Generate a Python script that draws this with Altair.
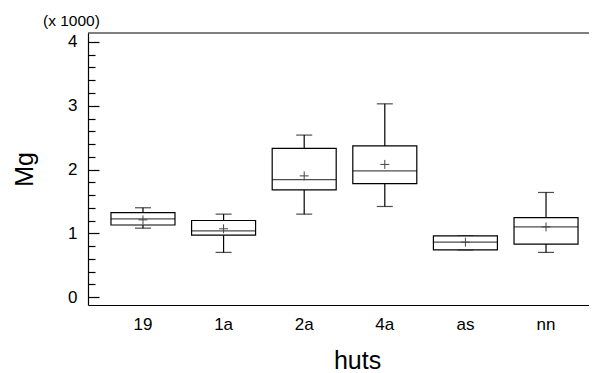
import altair as alt
import pandas as pd

huts = ["19", "1a", "2a", "4a", "as", "nn"]
w_low = [1.08, 0.70, 1.30, 1.42, 0.74, 0.70]
q1 = [1.13, 0.97, 1.68, 1.78, 0.74, 0.83]
median = [1.225, 1.036, 1.84, 1.98, 0.86, 1.10]
q3 = [1.325, 1.20, 2.33, 2.37, 0.96, 1.245]
w_high = [1.40, 1.30, 2.54, 3.03, 0.96, 1.64]
means = [1.21, 1.07, 1.90, 2.08, 0.86, 1.10]
major_ticks = [0, 1, 2, 3, 4]
all_ticks = [0, 0.2, 0.4, 0.6, 0.8, 1, 1.2, 1.4, 1.6, 1.8, 2, 2.2, 2.4, 2.6, 2.8,
             3, 3.2, 3.4, 3.6, 3.8, 4]

df = pd.DataFrame({"hut": huts, "lo": w_low, "q1": q1, "med": median,
                   "q3": q3, "hi": w_high, "mean": means})

FONT = "Liberation Sans"
W, H = 501, 272
XR = 513
ydom = [-0.125, 4.141]
yscale = alt.Scale(domain=ydom, nice=False, zero=False)
xscale = alt.Scale(paddingInner=0, paddingOuter=0.182, align=0.5, range=[0, XR])

xenc = alt.X("hut:N", sort=huts, scale=xscale,
             axis=alt.Axis(title="huts", ticks=False, domain=True, domainColor="black",
                           domainWidth=1.2, labelAngle=0,
                           labelFontSize=17, labelPadding=11, titleFontSize=25,
                           titleFontWeight="normal", titlePadding=16, titleX=269,
                           labelFont=FONT, titleFont=FONT, labelColor="black",
                           titleColor="black"))

base = alt.Chart(df).encode(x=xenc)
tick_size = {"condition": {"test": "abs(datum.value - round(datum.value)) < 0.001", "value": 11}, "value": 7}

whisk = base.mark_rule(color="black", strokeWidth=1.2).encode(
    y=alt.Y("lo:Q", scale=yscale,
            axis=alt.Axis(title="Mg", values=major_ticks, ticks=False, tickSize=0,
                          domain=True, domainColor="black", domainWidth=1.2,
                          grid=False, labelPadding=11, labelFontSize=17,
                          labelFont=FONT, labelColor="black", titleFont=FONT,
                          titleFontSize=25, titleFontWeight="normal", titleColor="black",
                          titlePadding=30, format="d")),
    y2="hi:Q")
cap_lo = base.mark_tick(size=16, thickness=1.2, color="black").encode(
    y=alt.Y("lo:Q", scale=yscale,
            axis=alt.Axis(orient="right", offset=-W, values=all_ticks, labels=False,
                          domain=False, grid=False, title=None, tickSize=tick_size,
                          tickColor="black", tickWidth=1.2)))
cap_hi = base.mark_tick(size=16, thickness=1.2, color="black").encode(
    y=alt.Y("hi:Q", scale=yscale,
            axis=alt.Axis(orient="left", offset=-XR, values=all_ticks, labels=False,
                          domain=False, grid=False, title=None, tickSize=tick_size,
                          tickColor="black", tickWidth=1.2)))
box = base.mark_bar(size=64, fill="white", stroke="black", strokeWidth=1.2).encode(
    y=alt.Y("q1:Q", scale=yscale, axis=None), y2="q3:Q")
med = base.mark_tick(size=64, thickness=1.2, color="black").encode(
    y=alt.Y("med:Q", scale=yscale, axis=None))
mean_pt = base.mark_point(shape="M-1,0L1,0M0,-1L0,1", size=81, filled=False,
                          color="#444444", strokeWidth=1, opacity=1).encode(
    y=alt.Y("mean:Q", scale=yscale, axis=None))
frame_df = pd.DataFrame({"top": [ydom[1]]})
top_line = alt.Chart(frame_df).mark_rule(color="black", strokeWidth=1.2).encode(
    y=alt.value(0), x=alt.value(0), x2=alt.value(XR))

chart = alt.layer(whisk, cap_lo, cap_hi, box, med, mean_pt, top_line).resolve_axis(
    y="independent").properties(
    width=W, height=H, autosize="none",
    padding={"left": 80, "top": 25, "right": 0, "bottom": 68},
    title=alt.Title("(x 1000)", anchor="start", frame="group", dx=-45, offset=3,
                    fontSize=15.5, fontWeight="normal", font=FONT, color="black"),
).configure_view(stroke=None)

chart.save("out.html", embed_options={"renderer": "svg", "actions": False})
